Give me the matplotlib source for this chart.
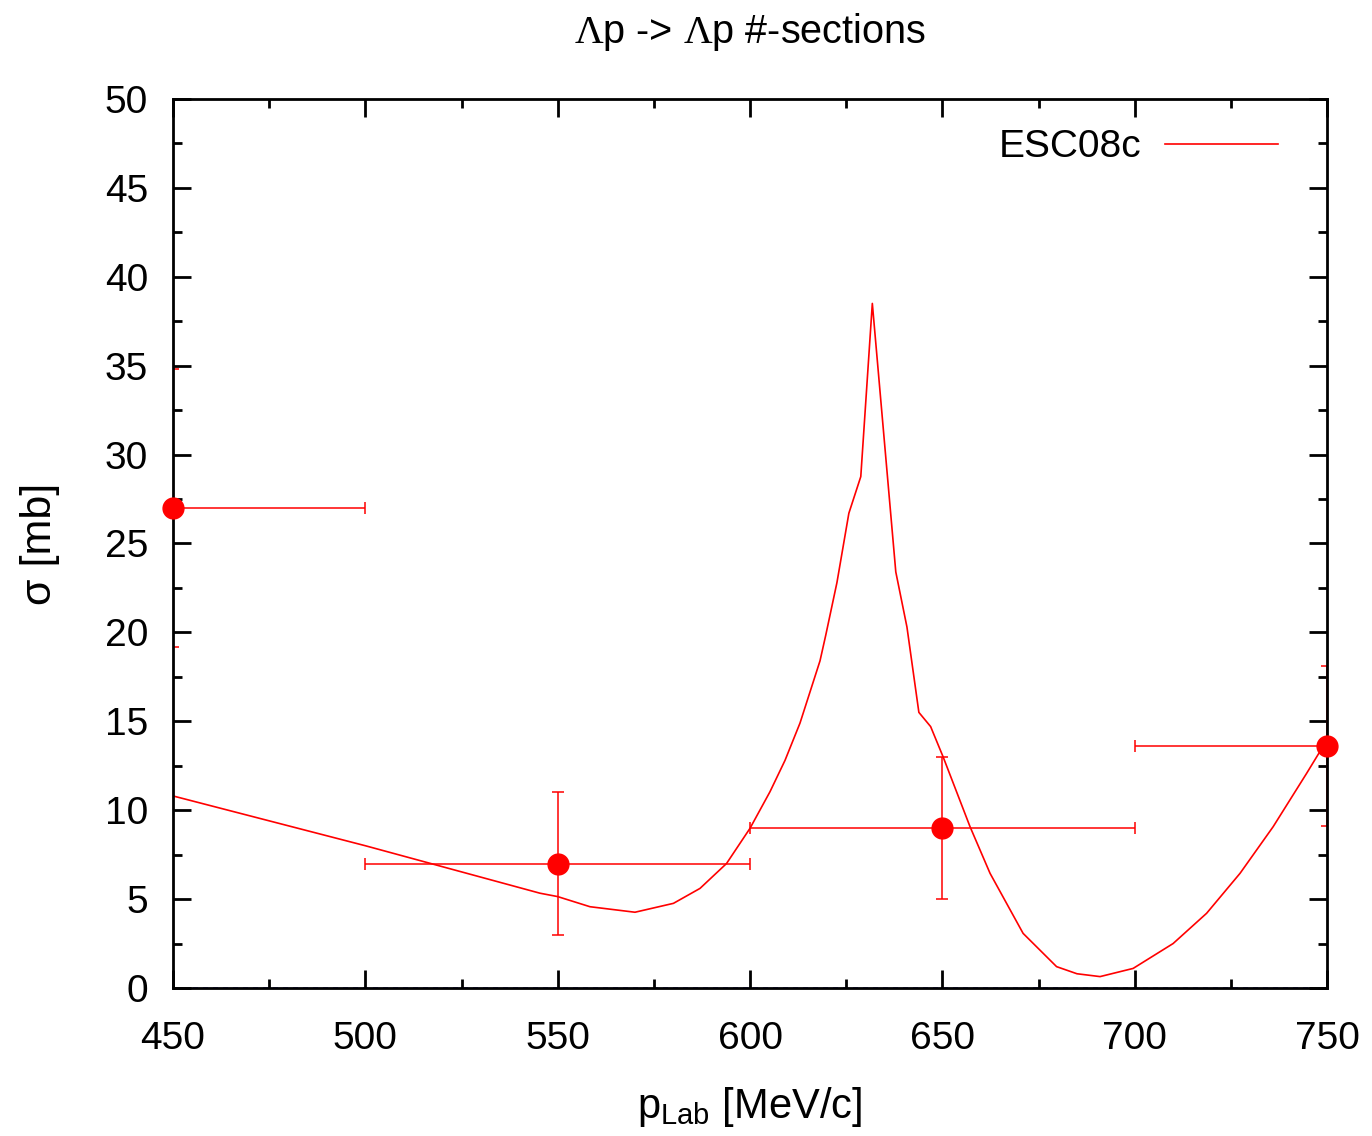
import matplotlib
matplotlib.use("Agg")
import matplotlib.pyplot as plt

plt.rcParams['font.family'] = ['Liberation Sans', 'DejaVu Sans']
plt.rcParams['mathtext.fontset'] = 'custom'
plt.rcParams['mathtext.rm'] = 'Liberation Sans'
plt.rcParams['mathtext.it'] = 'Liberation Sans:italic'
plt.rcParams['mathtext.sf'] = 'Liberation Serif'

# ESC08c model curve
curve_p = [450, 500, 545.4, 550, 558.4, 570.1, 580.1, 587, 593.9, 600, 605.2, 609.1,
           613, 618.2, 619.7, 622.6, 625.7, 628.8, 631.8, 637.9, 640.8, 643.9,
           646.96, 650.2, 657.2, 662.4, 671.0, 679.7, 685, 691.0, 699.6, 710.0,
           718.7, 727.4, 736.0, 744.7, 750]
curve_sigma = [10.8, 8.0, 5.33, 5.14, 4.57, 4.26, 4.76, 5.6, 7.0, 8.98, 11.04, 12.8,
               14.9, 18.4, 19.85, 22.8, 26.7, 28.76, 38.5, 23.4, 20.3, 15.5,
               14.7, 13.0, 9.07, 6.45, 3.07, 1.2, 0.8, 0.64, 1.1, 2.5,
               4.2, 6.45, 9.07, 12.07, 13.95]

# experimental points
data_p = [450, 550, 650, 750]
data_sigma = [27.0, 7.0, 9.0, 13.6]
data_perr = [50, 50, 50, 50]
data_serr = [7.8, 4.0, 4.0, 4.5]

fig = plt.figure(figsize=(13.72, 11.36), dpi=100)
ax = fig.add_axes([0.1261, 0.1303, 0.8411, 0.7826])

ax.axhline(0, color='#3a3aff', lw=1.2, ls=(0, (3, 3)), zorder=1)

ax.plot(curve_p, curve_sigma, color='red', lw=1.2, label='ESC08c', zorder=3)

ax.errorbar(data_p, data_sigma, xerr=data_perr, yerr=data_serr, fmt='none',
            ecolor='red', elinewidth=1.1, capsize=4, capthick=1.1, zorder=4)
ax.plot(data_p, data_sigma, 'o', color='red', ms=15, clip_on=False, zorder=5)

ax.set_xlim(450, 750)
ax.set_ylim(0, 50)
ax.set_xticks(range(450, 751, 50))
ax.set_xticks(range(450, 751, 25), minor=True)
ax.set_yticks(range(0, 51, 5))
ax.set_yticks([i * 2.5 for i in range(21)], minor=True)

ax.tick_params(which='both', direction='in', top=True, right=True, width=2,
               labelsize=28)
ax.tick_params(which='major', length=13)
ax.tick_params(which='minor', length=6.5)
ax.tick_params(axis='x', pad=24)
ax.tick_params(axis='y', pad=18)
for s in ax.spines.values():
    s.set_linewidth(2)
    s.set_zorder(4.5)

ax.set_xlabel(r'p$_{\mathrm{Lab}}$ [MeV/c]', fontsize=30, labelpad=20)
ax.set_ylabel('σ [mb]', fontsize=31, labelpad=32)
ax.set_title(r'$\mathsf{\Lambda}$p -> $\mathsf{\Lambda}$p #-sections', fontsize=28.5, pad=40)

leg = ax.legend(loc='upper right', bbox_to_anchor=(0.9575, 0.966), frameon=False,
                markerfirst=False, fontsize=28, handlelength=2.9,
                handletextpad=0.6, borderpad=0, borderaxespad=0)

fig.savefig('out.png', dpi=100)
